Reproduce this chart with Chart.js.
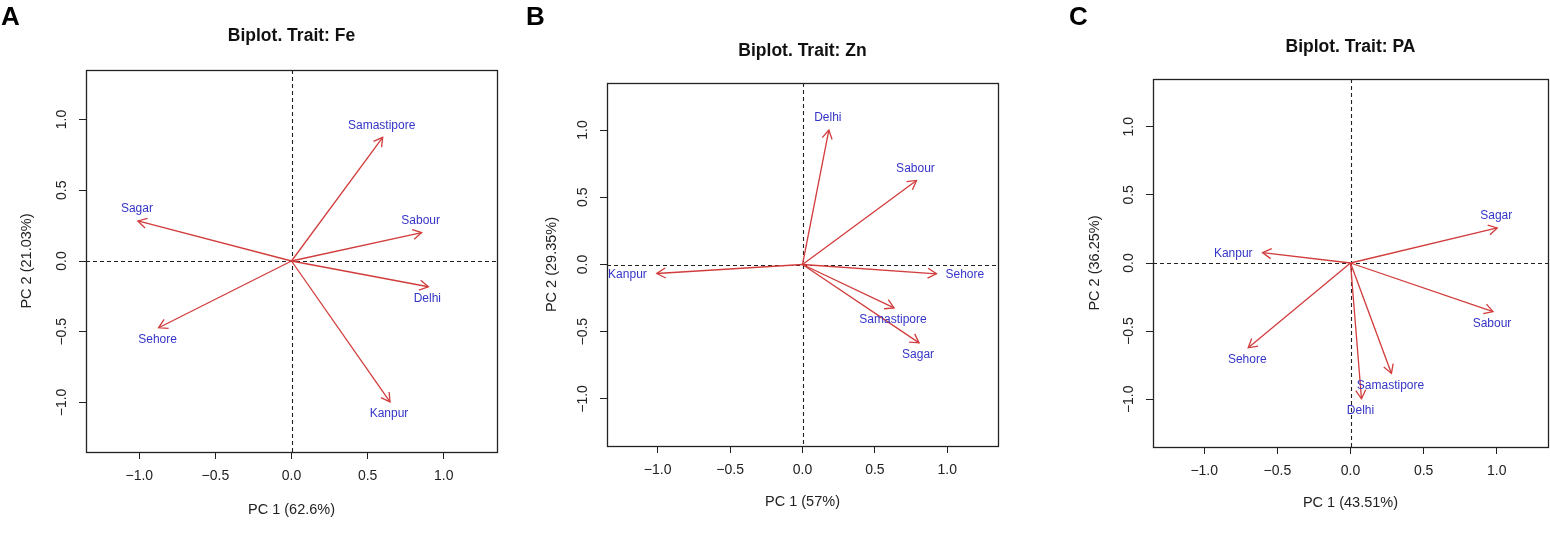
<!DOCTYPE html>
<html>
<head>
<meta charset="utf-8">
<script src="https://cdn.jsdelivr.net/npm/chart.js@4.4.1/dist/chart.umd.min.js"></script>
<style>
  html, body { margin: 0; padding: 0; background: #fff; }
  #wrap { position: relative; width: 1550px; height: 550px; overflow: hidden; }
  .panel { position: absolute; top: 0; height: 550px; }
  .letter { position: absolute; font-family: 'Liberation Sans', Arial, sans-serif; font-weight: bold; font-size: 26px; color: #000; line-height: 1; }
</style>
</head>
<body>
<div id="wrap">
  <div class="panel" style="left:0px;width:520px"><canvas id="cA" width="520" height="550"></canvas></div>
  <div class="panel" style="left:520px;width:510px"><canvas id="cB" width="510" height="550"></canvas></div>
  <div class="panel" style="left:1030px;width:520px"><canvas id="cC" width="520" height="550"></canvas></div>
  <div class="letter" style="left:1px;top:3px">A</div>
  <div class="letter" style="left:526px;top:3px">B</div>
  <div class="letter" style="left:1069px;top:3px">C</div>
</div>
<script>
// ---- data ----
const locations = ['Delhi', 'Kanpur', 'Sabour', 'Sagar', 'Samastipore', 'Sehore'];
const tickValues = [-1.0, -0.5, 0.0, 0.5, 1.0];
const tickLabels = ['\u22121.0', '\u22120.5', '0.0', '0.5', '1.0'];

const feTitle = 'Biplot. Trait: Fe';
const fePC1 = [0.899, 0.647, 0.855, -1.009, 0.599, -0.873];
const fePC2 = [-0.182, -0.996, 0.201, 0.283, 0.874, -0.472];
const feXLabel = 'PC 1 (62.6%)';
const feYLabel = 'PC 2 (21.03%)';

const znTitle = 'Biplot. Trait: Zn';
const znPC1 = [0.182, -1.006, 0.787, 0.805, 0.632, 0.925];
const znPC2 = [1.000, -0.067, 0.625, -0.583, -0.323, -0.069];
const znXLabel = 'PC 1 (57%)';
const znYLabel = 'PC 2 (29.35%)';

const paTitle = 'Biplot. Trait: PA';
const paPC1 = [0.075, -0.601, 0.974, 1.003, 0.280, -0.699];
const paPC2 = [-0.996, 0.076, -0.357, 0.257, -0.810, -0.622];
const paXLabel = 'PC 1 (43.51%)';
const paYLabel = 'PC 2 (36.25%)';

// ---- styling / layout ----
const FONT = "'Liberation Sans', Arial, sans-serif";
Chart.defaults.font.family = FONT;
const ARROW = '#d23c3c';
const LABEL = '#3434c8';
const AXIS_MIN = -1.35, AXIS_MAX = 1.35;
const TITLE_SIZE = 17.5;

function makePanel(id, geo, title, xs, ys, xLabel, yLabel) {
  const titleLH = TITLE_SIZE * 1.2;
  const axLH = 14.5 * 1.2;
  const datasets = locations.map((name, i) => ({
    label: name,
    data: [{ x: 0, y: 0 }, { x: xs[i], y: ys[i] }],
    showLine: true,
    borderColor: ARROW,
    borderWidth: 1.3,
    pointRadius: 0,
    pointHoverRadius: 0,
    fill: false
  }));

  const biplotPlugin = {
    id: 'biplot' + id,
    beforeDatasetsDraw(chart) {
      const { ctx, chartArea: a, scales: { x, y } } = chart;
      ctx.save();
      ctx.strokeStyle = '#222';
      ctx.lineWidth = 1.1;
      ctx.setLineDash([4, 3]);
      const x0 = Math.round(x.getPixelForValue(0)) + 0.5;
      const y0 = Math.round(y.getPixelForValue(0)) + 0.5;
      ctx.beginPath();
      ctx.moveTo(x0, a.top); ctx.lineTo(x0, a.bottom);
      ctx.moveTo(a.left, y0); ctx.lineTo(a.right, y0);
      ctx.stroke();
      ctx.restore();
    },
    afterDatasetsDraw(chart) {
      const { ctx, scales: { x, y } } = chart;
      const ox = x.getPixelForValue(0), oy = y.getPixelForValue(0);
      ctx.save();
      // arrow heads
      ctx.strokeStyle = ARROW;
      ctx.lineWidth = 1.3;
      ctx.setLineDash([]);
      locations.forEach((name, i) => {
        const tx = x.getPixelForValue(xs[i]), ty = y.getPixelForValue(ys[i]);
        const ang = Math.atan2(ty - oy, tx - ox);
        const L = 10, h = Math.PI / 6;
        ctx.beginPath();
        ctx.moveTo(tx - L * Math.cos(ang - h), ty - L * Math.sin(ang - h));
        ctx.lineTo(tx, ty);
        ctx.lineTo(tx - L * Math.cos(ang + h), ty - L * Math.sin(ang + h));
        ctx.stroke();
      });
      // labels
      ctx.fillStyle = LABEL;
      ctx.font = '12px ' + FONT;
      locations.forEach((name, i) => {
        const tx = x.getPixelForValue(xs[i]), ty = y.getPixelForValue(ys[i]);
        ctx.textBaseline = 'middle';
        if (Math.abs(ys[i]) < 0.15 && Math.abs(xs[i]) > 0.3) {
          ctx.textAlign = xs[i] > 0 ? 'left' : 'right';
          ctx.fillText(name, tx + (xs[i] > 0 ? 9 : -10), ty + 1);
        } else {
          ctx.textAlign = 'center';
          ctx.fillText(name, tx - 1, ty + (ys[i] > 0 ? -12 : 12));
        }
      });
      ctx.restore();
    },
    afterDraw(chart) {
      const { ctx, chartArea: a, scales: { y } } = chart;
      ctx.save();
      ctx.strokeStyle = '#222';
      ctx.lineWidth = 1.3;
      ctx.strokeRect(Math.round(a.left) + 0.5, Math.round(a.top) + 0.5,
                     Math.round(a.right - a.left), Math.round(a.bottom - a.top));
      // rotated y tick labels
      ctx.fillStyle = '#222';
      ctx.font = '14px ' + FONT;
      ctx.textAlign = 'center';
      ctx.textBaseline = 'middle';
      y.ticks.forEach((t, i) => {
        const py = y.getPixelForValue(t.value);
        ctx.save();
        ctx.translate(a.left - 24, py);
        ctx.rotate(-Math.PI / 2);
        ctx.fillText(tickLabels[i], 0, 0);
        ctx.restore();
      });
      ctx.restore();
    }
  };

  return new Chart(document.getElementById(id), {
    type: 'scatter',
    data: { datasets },
    options: {
      responsive: false,
      animation: false,
      events: [],
      layout: { padding: { left: 0, right: geo.cw - (geo.pr - geo.cl), top: 0, bottom: 0 } },
      plugins: {
        legend: { display: false },
        tooltip: { enabled: false },
        title: {
          display: true,
          text: title,
          fullSize: false,
          color: '#111',
          font: { size: TITLE_SIZE, weight: 'bold', family: FONT },
          padding: { top: geo.ty - titleLH / 2, bottom: geo.pt - geo.ty - titleLH / 2 }
        }
      },
      scales: {
        x: {
          type: 'linear',
          position: 'bottom',
          min: AXIS_MIN, max: AXIS_MAX,
          afterBuildTicks: s => { s.ticks = tickValues.map(v => ({ value: v })); },
          afterFit: s => { s.height = 550 - geo.pb; },
          ticks: {
            padding: 9,
            color: '#222',
            font: { size: 14, family: FONT },
            maxRotation: 0, minRotation: 0,
            autoSkip: false,
            callback: (v, i) => tickLabels[i]
          },
          grid: { display: true, drawOnChartArea: false, drawTicks: true, tickLength: 7, tickColor: '#222', lineWidth: 1 },
          border: { display: false },
          title: {
            display: true, text: xLabel, color: '#222',
            font: { size: 14.5, family: FONT },
            padding: { top: 0, bottom: 550 - geo.xy - axLH / 2 }
          }
        },
        y: {
          type: 'linear',
          position: 'left',
          min: AXIS_MIN, max: AXIS_MAX,
          afterBuildTicks: s => { s.ticks = tickValues.map(v => ({ value: v })); },
          afterFit: s => { s.width = geo.pl - geo.cl; },
          ticks: { display: false, autoSkip: false },
          grid: { display: true, drawOnChartArea: false, drawTicks: true, tickLength: 7, tickColor: '#222', lineWidth: 1 },
          border: { display: false },
          title: {
            display: true, text: yLabel, color: '#222',
            font: { size: 14.5, family: FONT },
            padding: { top: (geo.yx - geo.cl) - axLH / 2, bottom: 0 }
          }
        }
      }
    },
    plugins: [biplotPlugin]
  });
}

makePanel('cA', { cl: 0, cw: 520, pl: 86, pr: 497, pt: 70, pb: 452, ty: 36, yx: 27, xy: 510 },
  feTitle, fePC1, fePC2, feXLabel, feYLabel);
makePanel('cB', { cl: 520, cw: 510, pl: 607, pr: 998, pt: 83, pb: 446, ty: 51, yx: 552, xy: 502 },
  znTitle, znPC1, znPC2, znXLabel, znYLabel);
makePanel('cC', { cl: 1030, cw: 520, pl: 1153, pr: 1548, pt: 79, pb: 447, ty: 47, yx: 1095, xy: 503 },
  paTitle, paPC1, paPC2, paXLabel, paYLabel);
</script>
</body>
</html>
